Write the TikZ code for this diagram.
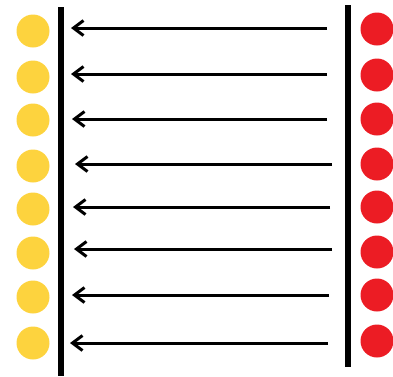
\documentclass[tikz,border=0pt]{standalone}
\usetikzlibrary{arrows.meta}
\definecolor{dotyellow}{RGB}{253,211,62}
\definecolor{dotred}{RGB}{236,28,36}
\begin{document}
\begin{tikzpicture}[x=1pt,y=-1pt,
  ydot/.style={circle,fill=dotyellow,minimum size=33pt,inner sep=0pt},
  rdot/.style={circle,fill=dotred,minimum size=33pt,inner sep=0pt},
  wall/.style={line width=6pt},
  flow/.style={line width=3pt,-{Straight Barb[length=10pt,width=15pt,line width=3pt]}}]
  \useasboundingbox (0,0) rectangle (393,376);
  % walls
  \coordinate (lt) at (61,7);  \coordinate (lb) at (61,376);
  \coordinate (rt) at (348,5); \coordinate (rb) at (348,367);
  \draw[wall] (lt) -- (lb);
  \draw[wall] (rt) -- (rb);
  % yellow dots on the left
  \foreach \i/\y in {1/31,2/77,3/120,4/166,5/209,6/253,7/297,8/343}
    \node[ydot] (y\i) at (33,\y) {};
  % red dots on the right
  \foreach \i/\y in {1/29,2/75,3/119,4/164,5/207,6/252,7/295,8/341}
    \node[rdot] (r\i) at (377,\y) {};
  % arrows between the walls
  \foreach \i/\y/\xs/\xe in {1/28/327/71,2/74/327/71,3/119/327/72,4/164/332/75,
                             5/207/330/73,6/249/332/74,7/295/329/72,8/343/328/70} {
    \coordinate (s\i) at (\xs,\y);
    \coordinate (e\i) at (\xe,\y);
    \draw[flow] (s\i) -- (e\i);
  }
\end{tikzpicture}
\end{document}
